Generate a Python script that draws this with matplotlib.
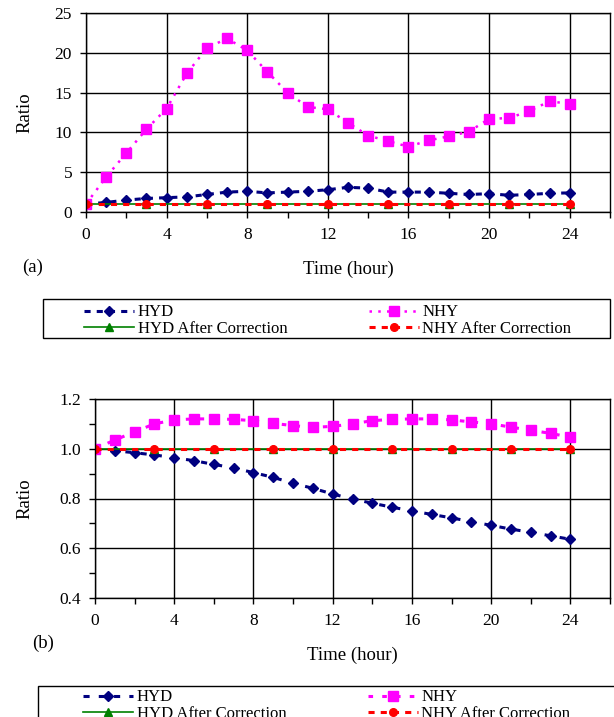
import numpy as np
import matplotlib
matplotlib.use("Agg")
import matplotlib.pyplot as plt
from matplotlib.patches import Rectangle

plt.rcParams['font.family'] = ['Liberation Serif', 'DejaVu Serif']

# hours
horas = list(range(25))
horas_corr = list(range(0, 25, 3))

# (a) ratios
hyd_a = [1.0, 1.2, 1.5, 1.7, 1.8, 1.9, 2.2, 2.5, 2.6, 2.4, 2.5, 2.6, 2.8,
         3.1, 3.0, 2.5, 2.5, 2.5, 2.35, 2.2, 2.3, 2.1, 2.2, 2.35, 2.4]
nhy_a = [1.0, 4.4, 7.4, 10.4, 13.0, 17.4, 20.6, 21.8, 20.3, 17.6, 15.0, 13.2, 12.9,
         11.2, 9.6, 8.9, 8.2, 9.0, 9.5, 10.1, 11.7, 11.8, 12.7, 13.9, 13.6]
hyd_corr_a = [1.0] * 9
nhy_corr_a = [1.0] * 9

# (b) ratios
hyd_b = [1.0, 0.992, 0.984, 0.975, 0.964, 0.952, 0.937, 0.923, 0.904, 0.885, 0.861,
         0.841, 0.818, 0.798, 0.781, 0.765, 0.750, 0.736, 0.722, 0.707, 0.692,
         0.677, 0.664, 0.650, 0.636]
nhy_b = [1.0, 1.035, 1.068, 1.10, 1.116, 1.12, 1.12, 1.118, 1.113, 1.102, 1.093,
         1.086, 1.09, 1.10, 1.113, 1.118, 1.12, 1.12, 1.116, 1.108, 1.10, 1.087,
         1.074, 1.062, 1.046]
hyd_corr_b = [1.0] * 9
nhy_corr_b = [1.0] * 9

W, H = 614, 717
fig = plt.figure(figsize=(W / 100, H / 100), dpi=100)


def caja(x0, y0, x1, y1):
    # pixel box -> figure coords
    return [x0 / W, 1 - y1 / H, (x1 - x0) / W, (y1 - y0) / H]


def estilo(ax):
    ax.set_xlim(0, 26)
    ax.set_xticks(range(0, 25, 4))
    ax.set_xticks(range(2, 27, 4), minor=True)
    ax.grid(True, which='major', color='black', lw=1)
    ax.set_axisbelow(True)
    ax.tick_params(which='both', direction='out', length=4, width=1,
                   labelsize=12.5, color='black')
    ax.tick_params(axis='x', pad=7)
    ax.tick_params(axis='y', pad=6)
    for s in ax.spines.values():
        s.set_color('black')
        s.set_linewidth(1)
    ax.set_xlabel('Time (hour)', fontsize=13.5, labelpad=12.5)
    ax.set_ylabel('Ratio', fontsize=13.5)


def leyenda(ax, x, y, caja_px):
    ax.legend(loc='upper left', bbox_to_anchor=(x / W, 1 - y / H),
              bbox_transform=fig.transFigure, ncol=2, frameon=False,
              fontsize=12, handlelength=3.0, handletextpad=0.2,
              columnspacing=4.9, borderpad=0, labelspacing=0.05)
    x0, y0, x1, y1 = caja_px
    fig.add_artist(Rectangle((x0 / W, 1 - y1 / H), (x1 - x0) / W, (y1 - y0) / H,
                             transform=fig.transFigure, fill=False,
                             ec='black', lw=1))


# ---- (a)
ax1 = fig.add_axes(caja(86, 13, 610, 212))
ax1.plot(horas, hyd_a, color='#000080', ls=(0, (2, 2)), lw=2.2,
         marker='D', ms=5, label='HYD')
ax1.plot(horas_corr, hyd_corr_a, color='#008000', ls='-', lw=1.2,
         marker='^', ms=6, label='HYD After Correction')
ax1.plot(horas, nhy_a, color='#FF00FF', ls=(0, (1, 2.5)), lw=1.8,
         marker='s', ms=7, label='NHY')
ax1.plot(horas_corr, nhy_corr_a, color='#FF0000', ls=(0, (2, 2)), lw=2.2,
         marker='o', ms=5.5, label='NHY After Correction')
ax1.set_ylim(0, 25)
ax1.set_yticks(range(0, 26, 5))
estilo(ax1)
ax1.yaxis.set_label_coords((33 - 86) / 524, 0.5)
fig.text(22 / W, 1 - 267 / H, '(a)', fontsize=13.5, va='center', ha='left')
leyenda(ax1, 76, 296, (43, 299, 610, 338))

# ---- (b)
ax2 = fig.add_axes(caja(95, 399, 610, 598))
ax2.plot(horas, hyd_b, color='#000080', ls=(0, (2, 3)), lw=2.2,
         marker='D', ms=5, label='HYD')
ax2.plot(horas_corr, hyd_corr_b, color='#008000', ls='-', lw=1.2,
         marker='^', ms=6, label='HYD After Correction')
ax2.plot(horas, nhy_b, color='#FF00FF', ls=(0, (1.5, 3)), lw=2.2,
         marker='s', ms=7.5, label='NHY')
ax2.plot(horas_corr, nhy_corr_b, color='#FF0000', ls=(0, (2, 2)), lw=2.2,
         marker='o', ms=5.5, label='NHY After Correction')
ax2.set_ylim(0.4, 1.2)
ax2.set_yticks(np.arange(0.4, 1.21, 0.2))
ax2.set_yticks(np.arange(0.5, 1.2, 0.2), minor=True)
ax2.yaxis.set_major_formatter(matplotlib.ticker.FormatStrFormatter('%.1f'))
estilo(ax2)
ax2.yaxis.set_label_coords((33 - 95) / 515, 0.5)
fig.text(32 / W, 1 - 643 / H, '(b)', fontsize=13.5, va='center', ha='left')
leyenda(ax2, 75, 681, (38, 686, 640, 740))

fig.savefig('out.png', dpi=100)
